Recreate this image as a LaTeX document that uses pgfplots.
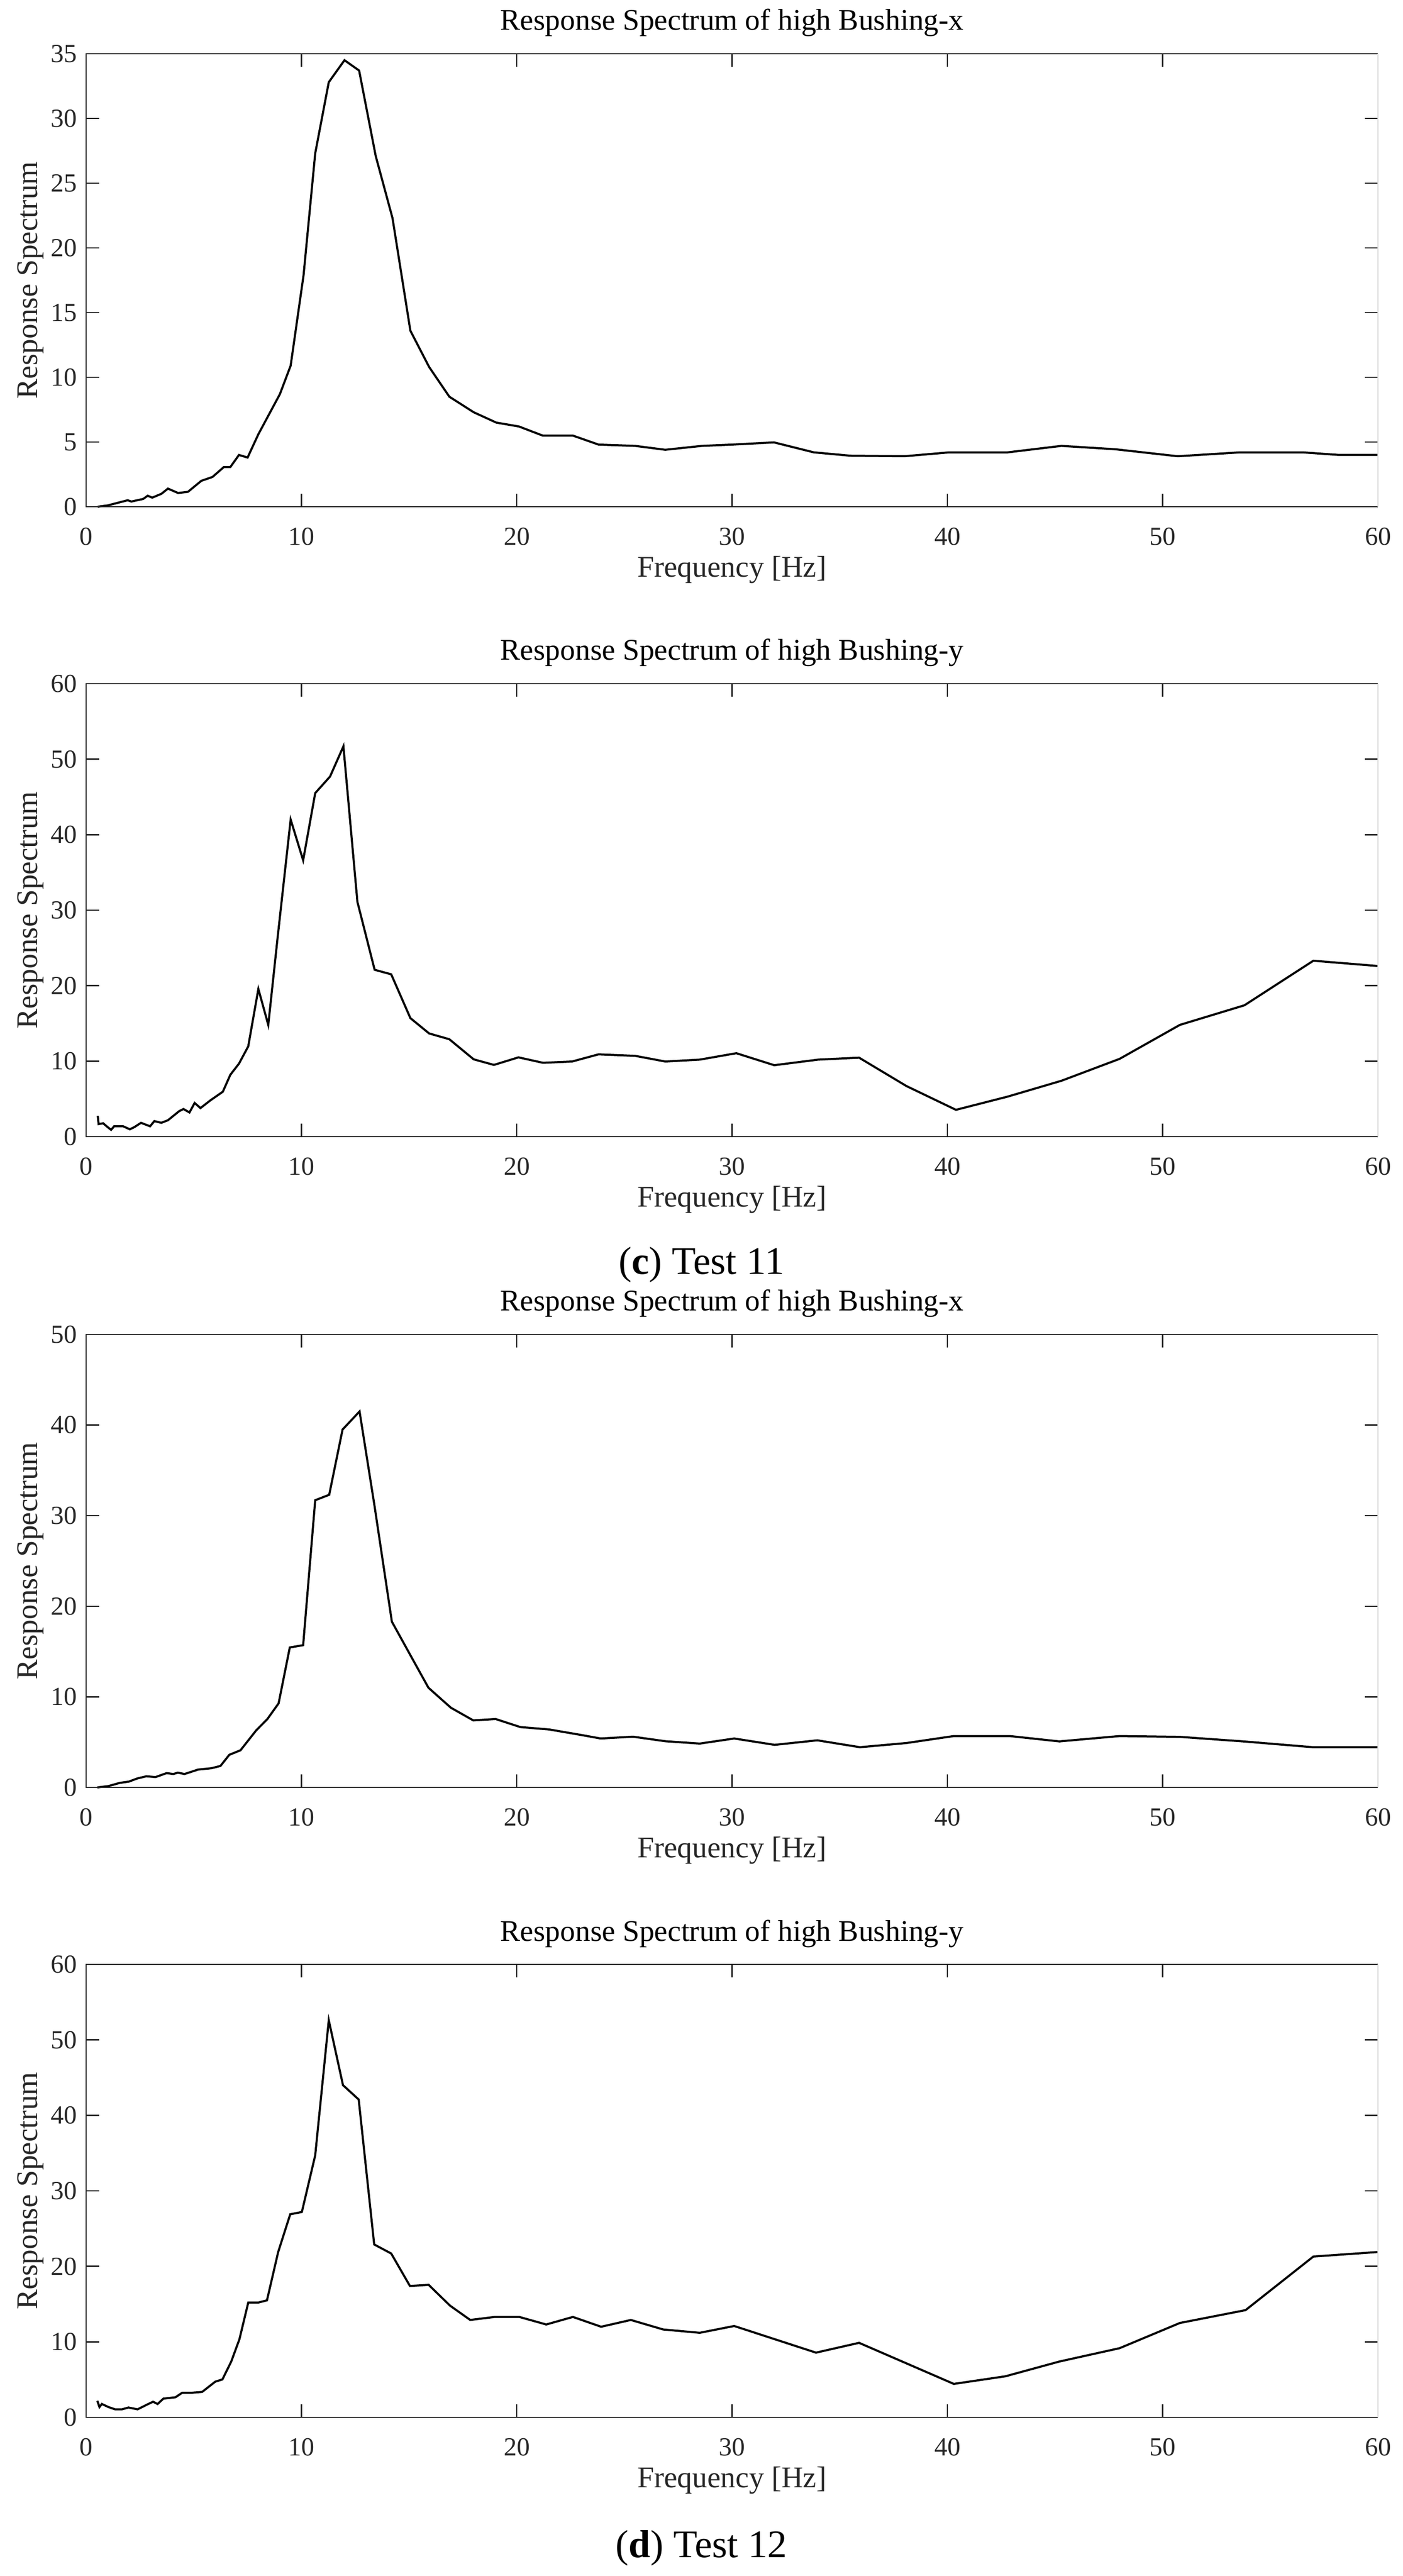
\documentclass[border=0pt]{standalone}
\usepackage{fontspec}
\setmainfont{Liberation Serif}
\usepackage{pgfplots}
\pgfplotsset{compat=1.18}
\usepackage{pgfplotstable}

\pgfplotstableread{
x y
0.54 0
1.0 0.1
1.93 0.5
2.1 0.4
2.65 0.6
2.86 0.85
3.07 0.7
3.5 1.0
3.8 1.4
4.27 1.06
4.73 1.15
5.35 2.0
5.87 2.3
6.4 3.07
6.7 3.07
7.1 4.0
7.5 3.8
8.0 5.6
9.0 8.7
9.5 10.9
10.1 17.9
10.64 27.3
11.27 32.8
12.0 34.5
12.68 33.7
13.45 27.1
14.23 22.3
15.06 13.6
15.93 10.8
16.87 8.5
18.0 7.3
19.05 6.5
20.1 6.2
21.2 5.5
22.6 5.5
23.8 4.8
25.5 4.7
26.9 4.4
28.6 4.7
30.0 4.8
31.95 4.97
33.8 4.2
35.5 3.94
38.0 3.9
40.1 4.2
42.8 4.2
45.3 4.7
47.8 4.44
50.7 3.9
53.6 4.2
56.5 4.2
58.2 4.0
60 4.0
}\tA

\pgfplotstableread{
x y
0.54 2.75
0.58 1.66
0.79 1.77
1.0 1.26
1.16 0.9
1.3 1.37
1.72 1.37
2.03 0.97
2.24 1.26
2.55 1.83
2.97 1.37
3.17 2.06
3.49 1.83
3.8 2.17
4.32 3.37
4.52 3.66
4.8 3.2
5.04 4.46
5.31 3.78
5.77 4.8
6.35 5.95
6.7 8.2
7.1 9.67
7.53 11.96
8.0 19.56
8.46 14.8
8.88 26.0
9.5 42.0
10.08 36.6
10.64 45.5
11.33 47.7
11.95 51.7
12.6 31.1
13.4 22.1
14.17 21.5
15.06 15.7
15.93 13.67
16.87 12.9
18.0 10.24
18.94 9.5
20.08 10.5
21.22 9.78
22.57 9.95
23.8 10.9
25.5 10.7
26.9 9.95
28.5 10.2
30.2 11.05
31.96 9.46
34.0 10.2
35.9 10.46
38.1 6.7
40.4 3.55
42.8 5.3
45.3 7.4
48.0 10.3
50.8 14.8
53.8 17.4
57.0 23.3
60 22.6
}\tB

\pgfplotstableread{
x y
0.52 0
1.04 0.15
1.56 0.5
1.98 0.64
2.39 1.0
2.8 1.23
3.22 1.14
3.74 1.58
4.05 1.48
4.26 1.63
4.57 1.48
5.2 1.97
5.82 2.12
6.24 2.37
6.65 3.6
7.17 4.1
7.9 6.3
8.42 7.55
8.94 9.28
9.46 15.45
10.08 15.7
10.64 31.7
11.29 32.3
11.91 39.5
12.7 41.5
13.4 31.0
14.2 18.3
15.06 14.6
15.9 11.0
16.94 8.8
17.98 7.4
19.02 7.55
20.17 6.66
21.5 6.4
22.97 5.8
23.9 5.4
25.4 5.6
26.9 5.1
28.5 4.84
30.1 5.4
31.98 4.7
33.96 5.2
35.94 4.44
38.1 4.9
40.3 5.67
42.9 5.67
45.2 5.08
48.0 5.67
50.8 5.58
53.75 5.08
56.98 4.44
60 4.44
}\tC

\pgfplotstableread{
x y
0.52 2.19
0.62 1.36
0.73 1.77
1.04 1.36
1.35 1.06
1.66 1.06
1.97 1.3
2.39 1.06
2.8 1.65
3.11 2.07
3.32 1.77
3.59 2.48
4.15 2.66
4.46 3.25
4.88 3.25
5.39 3.37
6.0 4.73
6.33 5.02
6.74 7.39
7.12 10.34
7.53 15.2
7.99 15.2
8.4 15.5
8.92 21.9
9.48 26.9
10.02 27.2
10.64 34.7
11.27 52.6
11.93 44.0
12.66 42.1
13.38 22.9
14.17 21.7
15.04 17.4
15.91 17.55
16.9 14.8
17.84 12.9
18.98 13.3
20.12 13.3
21.37 12.3
22.61 13.3
23.92 12.0
25.3 12.9
26.8 11.64
28.5 11.2
30.1 12.1
33.9 8.57
35.9 9.87
40.3 4.43
42.7 5.44
45.2 7.39
48.0 9.16
50.8 12.5
53.85 14.2
57.0 21.3
60 21.9
}\tD

\pgfplotsset{
  rs/.style={
    scale only axis, width=495pt, height=173.6pt,
    xmin=0, xmax=60, xtick={0,10,...,60},
    enlargelimits=false,
    /pgf/number format/assume math mode=true,
    tick label style={font=\fontsize{10}{12}\selectfont, text=black!85},
    xticklabel style={yshift=-4.5pt},
    label style={font=\fontsize{11.5}{13}\selectfont, text=black!85},
    title style={font=\fontsize{11.5}{13}\selectfont, text=black, at={(axis description cs:0.5,1)}, anchor=base, yshift=3pt},
    xlabel style={at={(axis description cs:0.5,0)}, anchor=north, yshift=-15.4pt},
    ylabel style={at={(axis description cs:-0.0432,0.5)}, anchor=center},
    xlabel={Frequency [Hz]}, ylabel={Response Spectrum},
    tick align=inside, major tick length=5pt,
    tick style={black!85, line width=0.5pt},
    axis line style={draw=none},
    clip=false,
    anchor=south west,
  },
  curve/.style={black, line width=0.8pt, mark=none, sharp plot},
}
\newcommand{\boxlines}{%
  \draw[black!85, line width=0.5pt] (rel axis cs:1,1) -- (rel axis cs:0,1) -- (rel axis cs:0,0) -- (rel axis cs:1,0);
  \draw[black!15, line width=0.5pt] (rel axis cs:1,0) -- (rel axis cs:1,1);
}

\begin{document}
\begin{tikzpicture}
\path[use as bounding box] (0,0) rectangle (537.6pt,987.2pt);

\begin{axis}[rs, at={(33pt,793pt)}, ymin=0, ymax=35, ytick={0,5,...,35},
  title={Response Spectrum of high Bushing-x}]
\addplot[curve] table[x=x,y=y]{\tA};
\boxlines
\end{axis}

\begin{axis}[rs, at={(33pt,551.6pt)}, ymin=0, ymax=60, ytick={0,10,...,60},
  title={Response Spectrum of high Bushing-y}]
\addplot[curve] table[x=x,y=y]{\tB};
\boxlines
\end{axis}

\node[font=\fontsize{15}{18}\selectfont] at (268.8pt,502.4pt) {(\textbf{c}) Test 11};

\begin{axis}[rs, at={(33pt,302.2pt)}, ymin=0, ymax=50, ytick={0,10,...,50},
  title={Response Spectrum of high Bushing-x}]
\addplot[curve] table[x=x,y=y]{\tC};
\boxlines
\end{axis}

\begin{axis}[rs, at={(33pt,60.8pt)}, ymin=0, ymax=60, ytick={0,10,...,60},
  title={Response Spectrum of high Bushing-y}]
\addplot[curve] table[x=x,y=y]{\tD};
\boxlines
\end{axis}

\node[font=\fontsize{15}{18}\selectfont] at (268.8pt,10.8pt) {(\textbf{d}) Test 12};
\end{tikzpicture}
\end{document}
